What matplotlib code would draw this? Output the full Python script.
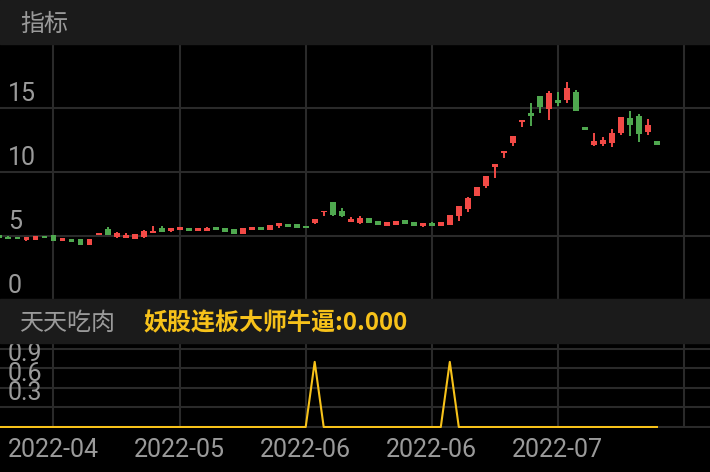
import matplotlib
matplotlib.use('Agg')
import matplotlib.pyplot as plt
from matplotlib.patches import Rectangle

# K线数据
opens = [5.05, 4.96, 4.92, 4.71, 4.69, 4.97, 5.08, 4.59, 4.80, 4.77,
         4.30, 5.08, 5.51, 4.95, 4.88, 4.79, 4.95, 5.20, 5.64, 5.37,
         5.47, 5.59, 5.37, 5.39, 5.68, 5.63, 5.52, 5.16, 5.45, 5.70,
         5.47, 5.80, 5.92, 5.90, 5.77, 6.00, 6.84, 7.63, 6.95, 6.09,
         6.00, 6.41, 6.21, 5.80, 5.86, 6.23, 6.09, 5.80, 5.99, 5.80,
         5.86, 6.59, 7.09, 8.14, 8.91, 10.41, 11.46, 12.27, 13.91, 14.63,
         15.94, 14.96, 15.63, 15.63, 16.23, 13.52, 12.11, 12.15, 12.24, 13.02,
         14.20, 14.40, 13.15, 12.42]
highs = [5.05, 4.97, 4.92, 4.90, 5.00, 4.97, 5.08, 4.87, 4.80, 4.77,
         4.74, 5.23, 5.68, 5.29, 5.21, 5.16, 5.47, 5.76, 5.76, 5.66,
         5.70, 5.63, 5.65, 5.70, 5.68, 5.63, 5.52, 5.60, 5.74, 5.70,
         5.86, 5.98, 5.92, 5.90, 5.77, 6.35, 6.97, 7.66, 7.19, 6.46,
         6.56, 6.41, 6.21, 6.13, 6.17, 6.23, 6.09, 6.02, 6.09, 6.07,
         6.64, 7.33, 8.03, 8.83, 9.66, 10.60, 11.66, 12.81, 14.06, 15.41,
         15.94, 16.33, 16.27, 17.03, 16.41, 13.52, 13.03, 12.71, 13.34, 14.32,
         14.73, 14.53, 14.14, 12.42]
lows = [4.88, 4.80, 4.73, 4.62, 4.69, 4.84, 4.61, 4.59, 4.51, 4.32,
        4.30, 5.08, 5.06, 4.87, 4.88, 4.79, 4.87, 5.20, 5.35, 5.35,
        5.47, 5.38, 5.37, 5.39, 5.45, 5.35, 5.14, 5.16, 5.45, 5.45,
        5.47, 5.65, 5.72, 5.63, 5.60, 5.90, 6.56, 6.56, 6.46, 6.09,
        5.91, 5.98, 5.86, 5.80, 5.86, 5.96, 5.78, 5.70, 5.80, 5.80,
        5.86, 6.21, 6.88, 8.14, 8.75, 9.55, 11.12, 12.07, 13.53, 13.62,
        14.63, 14.06, 15.18, 15.39, 14.77, 13.32, 12.03, 12.03, 11.93, 12.91,
        12.81, 12.37, 12.89, 12.13]
closes = [4.88, 4.80, 4.73, 4.90, 5.00, 4.84, 4.61, 4.87, 4.51, 4.32,
          4.74, 5.23, 5.06, 5.23, 5.08, 5.16, 5.39, 5.41, 5.35, 5.63,
          5.70, 5.41, 5.65, 5.66, 5.45, 5.35, 5.14, 5.60, 5.74, 5.45,
          5.86, 5.98, 5.72, 5.63, 5.60, 6.35, 6.97, 6.64, 6.55, 6.33,
          6.43, 5.98, 5.86, 6.09, 6.17, 5.96, 5.78, 6.02, 5.80, 6.07,
          6.64, 7.33, 7.98, 8.83, 9.66, 10.60, 11.66, 12.81, 14.06, 14.38,
          15.10, 16.21, 15.43, 16.56, 14.79, 13.32, 12.42, 12.50, 13.05, 14.32,
          13.67, 12.97, 13.67, 12.13]

# 妖股连板大师牛逼 信号
signal = [0, 0, 0, 0, 0, 0, 0, 0, 0, 0,
          0, 0, 0, 0, 0, 0, 0, 0, 0, 0,
          0, 0, 0, 0, 0, 0, 0, 0, 0, 0,
          0, 0, 0, 0, 0, 1, 0, 0, 0, 0,
          0, 0, 0, 0, 0, 0, 0, 0, 0, 0,
          1, 0, 0, 0, 0, 0, 0, 0, 0, 0,
          0, 0, 0, 0, 0, 0, 0, 0, 0, 0,
          0, 0, 0, 0]

grid_idx = [6, 20, 34, 48, 62, 76]
date_labels = ['2022-04', '2022-05', '2022-06', '2022-06', '2022-07']
price_ticks = [0, 5, 10, 15]
sig_ticks = [0.3, 0.6, 0.9]
sig_grid = [0, 0.3, 0.6, 0.9, 1.2]

W, H = 710, 472
RED = '#f24a46'
GREEN = '#4fa84f'
YELLOW = '#f7c21a'
GRID = '#2a2a2a'
LABEL = '#9a9a9a'
BAND = '#1b1b1b'
CJK = ['Noto Sans CJK SC', 'DejaVu Sans']

fig = plt.figure(figsize=(W / 100, H / 100), dpi=100, facecolor='black')

# 标题栏
for top, h in [(0, 44), (299, 44)]:
    fig.patches.append(Rectangle((0, 1 - (top + h) / H), 1, h / H,
                                 transform=fig.transFigure, color=BAND, zorder=0))

fig.text(20 / W, 1 - 31 / H, '指标', color=LABEL, fontsize=17.3, family=CJK, va='baseline')
fig.text(20 / W, 1 - 330 / H, '天天吃肉', color=LABEL, fontsize=17.3, family=CJK, va='baseline')
fig.text(143 / W, 1 - 330 / H, '妖股连板大师牛逼:0.000', color=YELLOW, fontsize=17.3,
         family=CJK, fontweight='bold', va='baseline')

xlim = (0.06, 78.89)
ax1 = fig.add_axes([0, 1 - 299 / H, 1, 255 / H])
ax2 = fig.add_axes([0, 1 - 428 / H, 1, 85 / H])
for ax in (ax1, ax2):
    ax.set_facecolor('black')
    ax.set_xlim(*xlim)
    for s in ax.spines.values():
        s.set_visible(False)
    ax.set_xticks([])
    ax.set_yticks([])
    for g in grid_idx:
        ax.axvline(g, color=GRID, lw=1.5, zorder=1)

# K线
ax1.set_ylim(0.08, 20.0)
for v in price_ticks:
    ax1.axhline(v, color=GRID, lw=1.5, zorder=1)
    ax1.annotate(str(v), xy=(0, v), xycoords=('axes fraction', 'data'), xytext=(8, 7),
                 textcoords='offset pixels', va='baseline', ha='left', color=LABEL,
                 fontsize=18, family='Roboto')

xs = list(range(len(opens)))
colors = [RED if c >= o else GREEN for o, c in zip(opens, closes)]
ax1.vlines(xs, lows, highs, colors=colors, lw=1.4, zorder=2)
bottoms = [min(o, c) for o, c in zip(opens, closes)]
heights = [max(abs(c - o), 0.08) for o, c in zip(opens, closes)]
ax1.bar(xs, heights, bottom=bottoms, width=0.66, color=colors, zorder=3)

# 指标
ax2.set_ylim(-0.015, 1.29)
for v in sig_grid:
    ax2.axhline(v, color=GRID, lw=1.5, zorder=1)
for v in sig_ticks:
    ax2.annotate(str(v), xy=(0, v), xycoords=('axes fraction', 'data'), xytext=(8, 7),
                 textcoords='offset pixels', va='baseline', ha='left', color=LABEL,
                 fontsize=18, family='Roboto')
ax2.plot(xs, signal, color=YELLOW, lw=1.5, zorder=3)

for g, lbl in zip(grid_idx, date_labels):
    ax2.annotate(lbl, xy=(g, 0), xycoords=('data', 'axes fraction'), xytext=(0, -29),
                 textcoords='offset pixels', va='baseline', ha='center', color=LABEL,
                 fontsize=18, family='Roboto', annotation_clip=False)

fig.savefig('out.png', dpi=100, facecolor='black')
